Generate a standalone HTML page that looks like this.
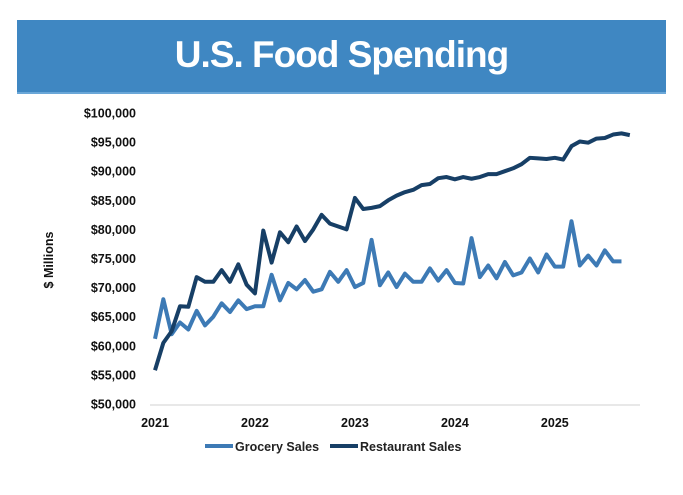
<!DOCTYPE html>
<html><head><meta charset="utf-8"><style>
body{margin:0;background:#fff;width:683px;height:495px;overflow:hidden;font-family:"Liberation Sans",sans-serif}
#band{position:absolute;left:17px;top:20px;width:649px;height:72px;background:#3f87c2;border-bottom:2px solid #6aa7d8}
#title{position:absolute;left:0;right:0;top:14px;text-align:center;color:#fff;font-weight:bold;font-size:37px;letter-spacing:-1px}
</style></head><body>
<div id="band"><div id="title">U.S. Food Spending</div></div>
<svg id="chart" width="683" height="495" style="position:absolute;left:0;top:0"></svg>
<script>
const yTicks=[50000,55000,60000,65000,70000,75000,80000,85000,90000,95000,100000];
const years=[2021,2022,2023,2024,2025];
const restaurant=[55.8,60.5,62.5,66.8,66.7,71.8,71.0,71.0,73.0,71.0,74.0,70.5,
69.0,79.8,74.3,79.5,77.8,80.5,78.0,80.0,82.5,81.0,80.5,80.0,
85.4,83.5,83.7,84.0,85.0,85.8,86.4,86.8,87.6,87.8,88.8,89.0,
88.6,89.0,88.7,89.0,89.5,89.5,90.0,90.5,91.2,92.3,92.2,92.1,
92.3,92.0,94.3,95.1,94.9,95.6,95.7,96.3,96.5,96.2];
const grocery=[61.2,68.0,62.0,64.0,62.8,66.0,63.5,65.0,67.3,65.8,67.8,66.3,
66.8,66.8,72.2,67.8,70.8,69.7,71.3,69.3,69.7,72.7,71.0,73.0,
70.1,70.8,78.2,70.4,72.6,70.1,72.4,71.0,71.0,73.3,71.2,73.0,
70.8,70.7,78.5,71.8,73.8,71.6,74.4,72.1,72.6,75.0,72.6,75.7,
73.6,73.6,81.4,73.8,75.5,73.8,76.4,74.5,74.5];
const svg=document.getElementById('chart');const NS='http://www.w3.org/2000/svg';
const y=v=>113+(100000-v)/50000*291;
const x=m=>155+m*8.33;
function mk(t,a){const e=document.createElementNS(NS,t);for(const k in a)e.setAttribute(k,a[k]);svg.appendChild(e);return e;}
const base=mk('line',{x1:150,x2:640,y1:405,y2:405,stroke:'#e0e0e0','stroke-width':1.5});


yTicks.forEach(v=>{const t=mk('text',{x:136,y:y(v)+4.5,'text-anchor':'end','font-size':'12.5','font-weight':'bold',fill:'#111'});
t.textContent='$'+v.toLocaleString('en-US');

});
years.forEach((yr,i)=>{const t=mk('text',{x:x(i*12),y:427,'text-anchor':'middle','font-size':'12.5','font-weight':'bold',fill:'#111'});
t.textContent=yr;

});
const yt=mk('text',{transform:'translate(53,260) rotate(-90)','text-anchor':'middle','font-size':'12.5','font-weight':'bold',fill:'#111'});
yt.textContent='$ Millions';


function line(d,c,name){const p=mk('polyline',{points:d.map((v,i)=>x(i)+','+y(v*1000)).join(' '),fill:'none',stroke:c,'stroke-width':4,'stroke-linejoin':'round'});

}
line(grocery,'#3d7ab5','grocery-sales-line');
line(restaurant,'#173f66','restaurant-sales-line');
[['Grocery Sales','#3d7ab5',205],['Restaurant Sales','#173f66',330]].forEach(([n,c,lx])=>{
const l=mk('line',{x1:lx,x2:lx+28,y1:446,y2:446,stroke:c,'stroke-width':4});


const t=mk('text',{x:lx+30,y:451,'font-size':'12.5','font-weight':'bold',fill:'#222'});t.textContent=n;

});
</script>
</body></html>
